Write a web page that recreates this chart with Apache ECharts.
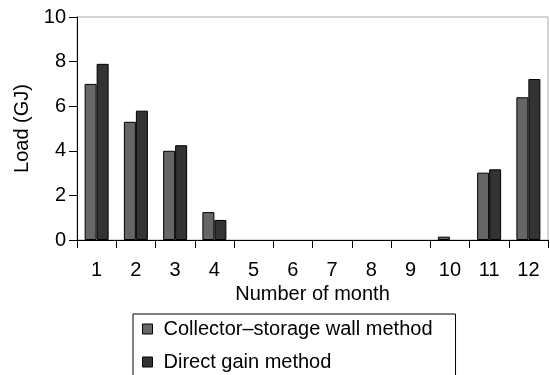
<!DOCTYPE html>
<html>
<head>
<meta charset="utf-8">
<script src="https://cdn.jsdelivr.net/npm/echarts@6/dist/echarts.min.js"></script>
<style>
  html, body { margin: 0; padding: 0; background: #fff; }
  #chart { width: 550px; height: 375px; }
</style>
</head>
<body>
<div id="chart"></div>
<script>
const months = ['1', '2', '3', '4', '5', '6', '7', '8', '9', '10', '11', '12'];
const collectorStorage = [7.0, 5.3, 4.0, 1.25, 0, 0, 0, 0, 0, 0.15, 3.02, 6.4];
const directGain = [7.9, 5.8, 4.25, 0.9, 0, 0, 0, 0, 0, 0, 3.17, 7.22];
const yTicks = { min: 0, max: 10, interval: 2 };

const font = 'Liberation Sans, Arial, sans-serif';
// zero months have no visible bar in the original
const noZero = arr => arr.map(v => (v === 0 ? '-' : v));

const chart = echarts.init(document.getElementById('chart'));

chart.setOption({
  backgroundColor: '#fff',
  animation: false,
  textStyle: { fontFamily: font },
  grid: {
    left: 77,
    right: 2,
    top: 17,
    bottom: 135,
    show: true,
    borderColor: '#aaa',
    borderWidth: 1,
    backgroundColor: 'transparent',
  },
  legend: {
    orient: 'vertical',
    left: 133,
    top: 314,
    height: 90,
    icon: 'rect',
    itemWidth: 10,
    itemHeight: 10,
    itemGap: 13,
    padding: [5, 23, 20, 9],
    borderColor: '#000',
    borderWidth: 1,
    itemStyle: { borderColor: '#000', borderWidth: 1 },
    textStyle: { fontSize: 20, color: '#000', fontFamily: font, padding: [0, 0, 0, 6] },
    data: ['Collector\u2013storage wall method', 'Direct gain method'],
  },
  xAxis: {
    type: 'category',
    data: months,
    name: 'Number of month',
    nameLocation: 'middle',
    nameGap: 42,
    nameTextStyle: { fontSize: 20, color: '#000' },
    axisLine: { lineStyle: { color: '#000', width: 1 } },
    axisTick: { show: true, alignWithLabel: false, length: 8, lineStyle: { color: '#000' } },
    axisLabel: { fontSize: 20, color: '#000', margin: 20 },
  },
  yAxis: {
    type: 'value',
    min: yTicks.min,
    max: yTicks.max,
    interval: yTicks.interval,
    name: 'Load (GJ)',
    nameLocation: 'middle',
    nameGap: 44,
    nameTextStyle: { fontSize: 20, color: '#000' },
    axisLine: { show: true, lineStyle: { color: '#000', width: 1 } },
    axisTick: { show: true, length: 8, lineStyle: { color: '#000' } },
    axisLabel: { fontSize: 20, color: '#000', margin: 11 },
    splitLine: { show: false },
  },
  series: [
    {
      name: 'Collector\u2013storage wall method',
      type: 'bar',
      data: noZero(collectorStorage),
      barWidth: 12,
      barGap: '0%',
      itemStyle: { color: '#666', borderColor: '#000', borderWidth: 1 },
    },
    {
      name: 'Direct gain method',
      type: 'bar',
      data: noZero(directGain),
      barWidth: 12,
      barGap: '0%',
      itemStyle: { color: '#333', borderColor: '#000', borderWidth: 1 },
    },
  ],
});
</script>
</body>
</html>
